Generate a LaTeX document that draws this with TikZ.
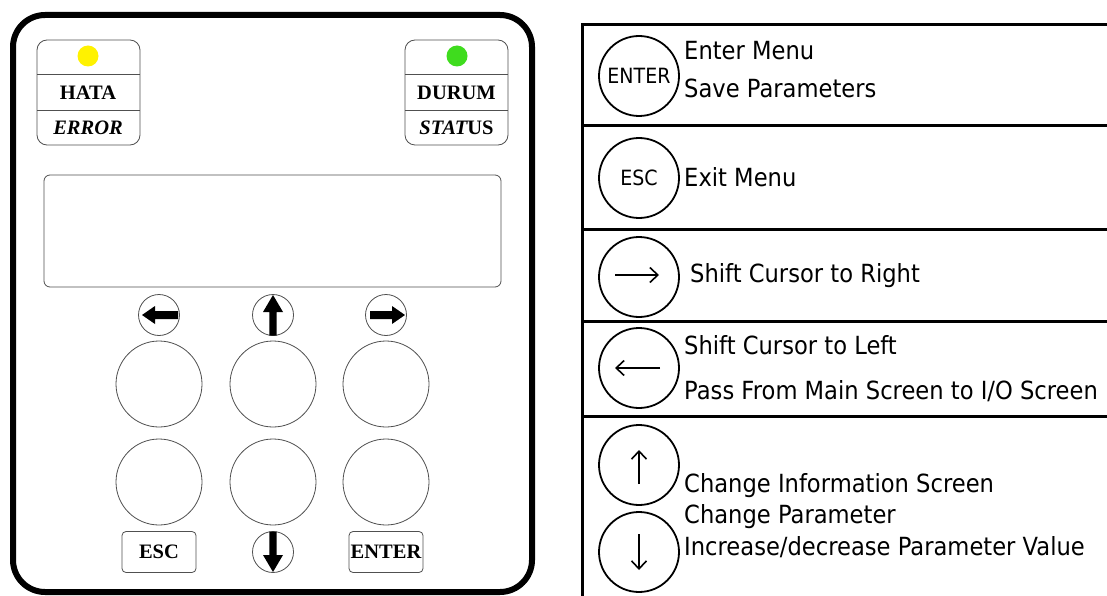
\documentclass[tikz,border=0pt]{standalone}
\usepackage{fontspec}
\newfontfamily\tah[FakeStretch=0.905]{DejaVu Sans}
\newfontfamily\tms{Liberation Serif}
\usetikzlibrary{arrows.meta}
\definecolor{ledyellow}{HTML}{FFF200}
\definecolor{ledgreen}{HTML}{3FDC1E}
\definecolor{edgegray}{HTML}{505050}
\begin{document}
\begin{tikzpicture}[x=1pt,y=-1pt,
  panel/.style={draw, line width=6pt, rounded corners=32pt, minimum width=519pt, minimum height=577pt, inner sep=0pt},
  ledbox/.style={draw=edgegray, line width=0.8pt, rounded corners=10pt, minimum width=103pt, minimum height=105pt, inner sep=0pt},
  screenbox/.style={draw=edgegray, line width=0.8pt, rounded corners=6pt, minimum width=457pt, minimum height=112pt, inner sep=0pt},
  led/.style={circle, minimum size=21pt, inner sep=0pt},
  smallkey/.style={draw=edgegray, circle, line width=0.8pt, minimum size=41pt, inner sep=0pt},
  bigkey/.style={draw=edgegray, circle, line width=0.8pt, minimum size=86pt, inner sep=0pt},
  keybox/.style={draw=edgegray, line width=0.8pt, rounded corners=4pt, minimum width=74pt, minimum height=41pt, inner sep=0pt, font=\tms\bfseries\fontsize{20.5}{22}\selectfont},
  plbl/.style={anchor=base, inner sep=0pt, font=\tms\bfseries\fontsize{20.5}{22}\selectfont},
  tbl/.style={line width=3pt},
  rkey/.style={draw, circle, line width=1.8pt, minimum size=80pt, inner sep=0pt, font=\tah\fontsize{21}{23}\selectfont},
  rtxt/.style={anchor=base west, inner sep=0pt, font=\tah\fontsize{25}{29}\selectfont},
  glyph/.style={line width=1.6pt, -{Straight Barb[length=8pt,width=15pt]}},
  blockarrow/.style={fill=black}
]
\useasboundingbox (0,0) rectangle (1107,596);
\fill[white] (0,0) rectangle (1107,596);

% ---------- left panel ----------
\node[panel] (panel) at (272.5,303.5) {};

\node[ledbox] (errbox) at (88.5,92.5) {};
\draw[edgegray, line width=0.8pt] (37,74) -- (140,74) (37,110) -- (140,110);
\node[led, fill=ledyellow] (ledE) at (88,56) {};
\node[plbl] (hata) at (88,99.5) {HATA};
\node[plbl] (error) at (88,134.5) {\itshape ERROR};

\node[ledbox] (stbox) at (456.5,92.5) {};
\draw[edgegray, line width=0.8pt] (405,74) -- (508,74) (405,110) -- (508,110);
\node[led, fill=ledgreen] (ledS) at (457,56) {};
\node[plbl] (durum) at (456.5,99.5) {DURUM};
\node[plbl] (status) at (456.5,134.5) {\itshape STAT\upshape US};

\node[screenbox] (screen) at (272.5,231) {};

\node[smallkey] (kL) at (159,315) {};
\node[smallkey] (kU) at (273,315) {};
\node[smallkey] (kR) at (386,315) {};
\node[smallkey] (kD) at (273,552) {};

\node[bigkey] (b11) at (159,384) {};
\node[bigkey] (b12) at (273,384) {};
\node[bigkey] (b13) at (386,384) {};
\node[bigkey] (b21) at (159,482) {};
\node[bigkey] (b22) at (273,482) {};
\node[bigkey] (b23) at (386,482) {};

\node[keybox] (escbox) at (159,552) {ESC};
\node[keybox] (entbox) at (386,552) {ENTER};

\begin{scope}[shift={(kL.center)}]
  \fill[blockarrow] (-17,0) -- (-4,-9) -- (-4,-4) -- (19,-4) -- (19,4) -- (-4,4) -- (-4,9) -- cycle;
\end{scope}
\begin{scope}[shift={(kR.center)}]
  \fill[blockarrow] (19,0) -- (6,-9) -- (6,-4) -- (-16,-4) -- (-16,4) -- (6,4) -- (6,9) -- cycle;
\end{scope}
\begin{scope}[shift={(kU.center)}]
  \fill[blockarrow] (0,-20) -- (-10,-3) -- (-3.7,-3) -- (-3.7,20.5) -- (3.7,20.5) -- (3.7,-3) -- (10,-3) -- cycle;
\end{scope}
\begin{scope}[shift={(kD.center)}]
  \fill[blockarrow] (0,20) -- (-10,3) -- (-3.7,3) -- (-3.7,-20.5) -- (3.7,-20.5) -- (3.7,3) -- (10,3) -- cycle;
\end{scope}

% ---------- right table ----------
\coordinate (tTL) at (582,25);
\coordinate (tTR) at (1107,25);
\coordinate (tBL) at (582,596);
\draw[tbl] (tBL) -- (tTL) -- (tTR);
\draw[tbl] (582,126) -- (1107,126);
\draw[tbl] (582,229) -- (1107,229);
\draw[tbl] (582,321) -- (1107,321);
\draw[tbl] (582,416) -- (1107,416);

\node[rkey] (cEnter) at (639,76) {ENTER};
\node[rkey] (cEsc) at (639,178) {ESC};
\node[rkey] (cRight) at (639,277) {};
\node[rkey] (cLeft) at (639,368) {};
\node[rkey] (cUp) at (639,465) {};
\node[rkey] (cDown) at (639,552) {};

\coordinate (rA) at (615,275); \coordinate (rB) at (659,275);
\draw[glyph] (rA) -- (rB);
\coordinate (lA) at (660,368); \coordinate (lB) at (615,368);
\draw[glyph] (lA) -- (lB);
\coordinate (uA) at (639,484); \coordinate (uB) at (639,450);
\draw[glyph] (uA) -- (uB);
\coordinate (dA) at (639,534); \coordinate (dB) at (639,570);
\draw[glyph] (dA) -- (dB);

\node[rtxt] (t1) at (684,60) {Enter Menu};
\node[rtxt] (t2) at (684,98) {Save Parameters};
\node[rtxt] (t3) at (684,186) {Exit Menu};
\node[rtxt] (t4) at (690,282) {Shift Cursor to Right};
\node[rtxt] (t5) at (684,354) {Shift Cursor to Left};
\node[rtxt] (t6) at (684,399) {Pass From Main Screen to I/O Screen};
\node[rtxt] (t7) at (684,492) {Change Information Screen};
\node[rtxt] (t8) at (684,523) {Change Parameter};
\node[rtxt] (t9) at (684,555) {Increase/decrease Parameter Value};
\end{tikzpicture}
\end{document}
